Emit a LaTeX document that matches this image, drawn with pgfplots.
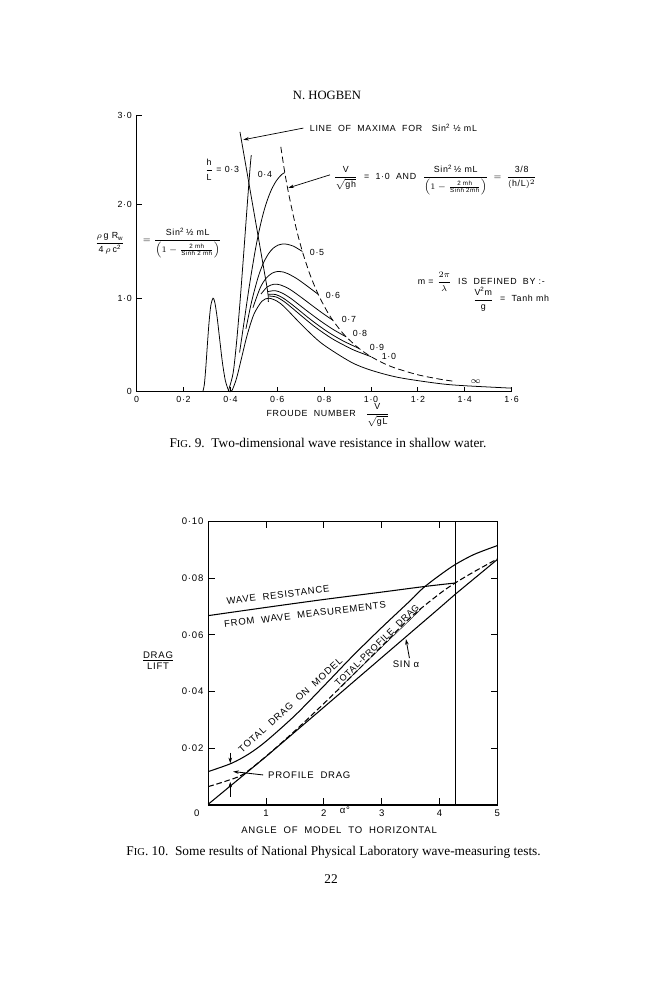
\documentclass[border=0pt]{standalone}
\usepackage{pgfplots}
\pgfplotsset{compat=1.18}
\usepackage{amsmath}
\usepackage{fontspec}
\setmainfont{Liberation Serif}
\setsansfont{Liberation Sans}[LetterSpace=8]
\usetikzlibrary{arrows.meta}
\newcommand\la{\sffamily\fontsize{6.3}{7.5}\selectfont}
\newcommand\lb{\sffamily\fontsize{6.8}{8}\selectfont}
\newcommand\lc{\sffamily\fontsize{6.4}{7.5}\selectfont}
\newcommand\capf{\rmfamily\fontsize{9.5}{11}\selectfont}
\begin{document}
\begin{tikzpicture}
\fill[white] (0,0) rectangle (16.6cm,-25cm);
\path[use as bounding box] (0,0) rectangle (16.6cm,-25cm);
\node[font=\rmfamily\fontsize{9}{11}\selectfont] at (8.175cm,-2.375cm) {N. HOGBEN};
%================ FIG 9 =================
\begin{axis}[at={(3.4175cm,-9.7925cm)}, anchor=south west, scale only axis,
  width=9.3725cm, height=6.9175cm, xmin=0, xmax=1.6, ymin=0, ymax=2.96,
  axis x line=bottom, axis y line=left, axis line style={-, line width=0.6pt},
  xtick={0,0.2,0.4,0.6,0.8,1.0,1.2,1.4,1.6},
  xticklabels={0,0·2,0·4,0·6,0·8,1·0,1·2,1·4,1·6},
  ytick={0,1,2,2.96}, yticklabels={0,1·0,2·0,3·0},
  tick align=inside, major tick length=0.12cm,
  tick style={line width=0.6pt, black}, tick label style={font=\la},
  clip=false, every axis plot/.append style={line width=0.55pt, black}]
% common hump
\addplot[smooth] coordinates {(0.2821,0)(0.2887,0.078)(0.2949,0.258)(0.3015,0.498)(0.3086,0.738)(0.3162,0.920)(0.3257,1.0)(0.3333,0.956)(0.343,0.801)(0.3536,0.573)(0.3651,0.326)(0.378,0.123)(0.3922,0.012)(0.399,0)};
% deep water (infinity)
\addplot[smooth] coordinates {(0.399,0)(0.4082,0.020)(0.4264,0.146)(0.4472,0.358)(0.4714,0.605)(0.5,0.827)(0.5345,0.968)(0.5642,1.0)(0.6,0.967)(0.6325,0.901)(0.7071,0.708)(0.7906,0.515)(0.9129,0.319)(1.0,0.230)(1.118,0.152)(1.291,0.087)(1.4,0.064)(1.6,0.038)};
% h/L = 0.3
\addplot[smooth] coordinates {(0.390,0)(0.411,0.193)(0.4255,0.511)(0.4407,0.953)(0.4565,1.474)(0.4726,2.026)(0.4845,2.415)(0.489,2.53)};
% 0.4
\addplot[smooth] coordinates {(0.4391,0.420)(0.4587,0.754)(0.480,1.119)(0.503,1.471)(0.5202,1.695)(0.537,1.877)(0.5519,2.008)(0.5667,2.112)(0.5762,2.168)(0.5942,2.25)(0.6098,2.30)(0.622,2.33)(0.632,2.344)};
% 0.5
\addplot[smooth] coordinates {(0.4662,0.673)(0.4909,0.969)(0.5186,1.228)(0.5403,1.374)(0.5623,1.475)(0.5825,1.535)(0.6032,1.568)(0.6171,1.578)(0.6308,1.581)(0.6442,1.576)(0.669,1.557)(0.689,1.528)(0.7071,1.5)};
% 0.6
\addplot[smooth] coordinates {(0.4959,0.898)(0.5266,1.108)(0.5513,1.211)(0.5772,1.267)(0.6017,1.286)(0.6277,1.279)(0.6456,1.262)(0.682,1.212)(0.717,1.15)(0.7468,1.094)(0.7746,1.042)};
% 0.7
\addplot[smooth] coordinates {(0.5306,1.045)(0.5573,1.121)(0.5859,1.150)(0.6136,1.142)(0.6439,1.109)(0.6654,1.076)(0.7105,0.994)(0.756,0.908)(0.797,0.833)(0.8367,0.765)};
% 0.8
\addplot[smooth] coordinates {(0.5605,1.071)(0.5909,1.081)(0.621,1.055)(0.6545,1.004)(0.6789,0.958)(0.7317,0.855)(0.7876,0.751)(0.8403,0.663)(0.8944,0.586)};
% 0.9
\addplot[smooth] coordinates {(0.5622,1.041)(0.5937,1.039)(0.6255,1.001)(0.6615,0.935)(0.688,0.882)(0.7474,0.762)(0.813,0.644)(0.8781,0.547)(0.9487,0.463)};
% 1.0
\addplot[smooth] coordinates {(0.5632,1.024)(0.5954,1.013)(0.6282,0.966)(0.666,0.890)(0.6943,0.830)(0.759,0.697)(0.8335,0.568)(0.911,0.464)(0.946,0.426)(1.0,0.375)};
% line of maxima
\addplot[black] coordinates {(0.4407,2.78)(0.556,1.12)(0.561,1.03)(0.562,0.96)};
% V/sqrt(gh)=1 line
\addplot[smooth, dash pattern=on 4.5pt off 2.5pt] coordinates {(0.615,2.62)(0.632,2.344)(0.65,2.10)(0.68,1.755)(0.7071,1.5)(0.74,1.25)(0.7746,1.042)(0.81,0.871)(0.8367,0.765)(0.87,0.655)(0.8944,0.586)(0.9487,0.463)(1.0,0.375)(1.05,0.3085)(1.1,0.256)(1.2,0.181)(1.3,0.1313)(1.36,0.110)};
% labels
\node[anchor=west, font=\la] at (axis cs:0.718,2.823) {LINE \ OF \ MAXIMA \ FOR \ \ Sin\textsuperscript{2} ½ mL};
\draw[-{Stealth[length=4pt,width=2.5pt]}, line width=0.5pt] (axis cs:0.711,2.82) -- (axis cs:0.455,2.695);
\node[anchor=east, font=\la] at (axis cs:0.458,2.374) {$\dfrac{\text{h}}{\text{L}}$ = 0·3};
\node[font=\la] at (axis cs:0.547,2.32) {0·4};
\node[anchor=west, font=\la] at (axis cs:0.718,1.485) {0·5};
\node[anchor=west, font=\la] at (axis cs:0.786,1.035) {0·6};
\node[anchor=west, font=\la] at (axis cs:0.854,0.778) {0·7};
\node[anchor=west, font=\la] at (axis cs:0.9015,0.628) {0·8};
\node[anchor=west, font=\la] at (axis cs:0.974,0.478) {0·9};
\node[anchor=west, font=\la] at (axis cs:1.025,0.372) {1·0};
\node[font=\la] at (axis cs:1.4475,0.104) {$\infty$};
\node[anchor=west, font=\la, inner sep=0pt] at (axis cs:0.84,2.265) {$\dfrac{\text{V}}{\sqrt{\text{gh}}}$ \ = \ 1·0 \ AND \ $\dfrac{\text{Sin}^{\text{2}}\,\text{½ mL}}{\Bigl(1-\frac{\text{2 mh}}{\text{Sinh 2mh}}\Bigr)}\,=\,\dfrac{\text{3/8}}{(\text{h/L})^{2}}$};
\draw[-{Stealth[length=4pt,width=2.5pt]}, line width=0.5pt] (axis cs:0.825,2.32) -- (axis cs:0.647,2.18);
\node[font=\la] at (axis cs:-0.114,1.59) {$\dfrac{\rho\,\text{g R}_{\text{w}}}{\text{4}\,\rho\,\text{c}^{\text{2}}}$};
\node[anchor=west, font=\la] at (axis cs:0.005,1.59) {$=\dfrac{\text{Sin}^{\text{2}}\,\text{½ mL}}{\Bigl(1-\frac{\text{2 mh}}{\text{Sinh 2 mh}}\Bigr)}$};
\node[anchor=west, font=\la] at (axis cs:1.179,1.175) {m = $\dfrac{2\pi}{\lambda}$ \ IS \ DEFINED \ BY :-};
\node[anchor=west, font=\la] at (axis cs:1.4135,0.99) {$\dfrac{\text{V}^{\text{2}}\text{m}}{\text{g}}$ \ = \ Tanh mh};
\node[font=\la] at (axis cs:0.816,-0.25) {FROUDE \ NUMBER \ \ $\dfrac{\text{V}}{\sqrt{\text{gL}}}$};
\end{axis}
\node[font=\capf] at (8.2cm,-11.075cm) {F{\fontsize{7.5}{9}\selectfont IG}. 9.\ \ Two-dimensional wave resistance in shallow water.};
%================ FIG 10 =================
\begin{axis}[at={(5.2075cm,-20.125cm)}, anchor=south west, scale only axis,
  width=7.225cm, height=7.0875cm, xmin=0, xmax=5, ymin=0, ymax=0.1,
  xtick={1,2,3,4,5}, xticklabels={1,2,3,4,5},
  ytick={0.02,0.04,0.06,0.08,0.1},
  yticklabels={0·02,0·04,0·06,0·08,0·10}, scaled y ticks=false,
  tick align=inside, major tick length=0.17cm,
  axis line style={line width=0.8pt}, tick style={line width=0.8pt, black},
  tick label style={font=\lb}, clip=false,
  every axis plot/.append style={line width=0.75pt, black}]
% total drag on model
\addplot[smooth] coordinates {(0,0.0118)(0.4,0.0147)(0.7,0.0180)(1.0,0.0225)(1.5,0.0316)(2.0,0.0420)(2.5,0.0526)(3.0,0.0626)(3.5,0.0722)(3.72,0.0766)(4.0,0.0810)(4.27,0.0848)(4.6,0.0884)(5,0.0915)};
% total - profile drag
\addplot[smooth, dash pattern=on 4pt off 2pt] coordinates {(0,0.0065)(0.3,0.0084)(0.6,0.0108)(1,0.0172)(1.5,0.0262)(2,0.0358)(2.5,0.0458)(3,0.056)(3.5,0.0662)(4,0.0745)(4.27,0.0783)(4.6,0.0823)(5,0.0868)};
% sin alpha
\addplot[black] coordinates {(0,0.0003)(1,0.0171)(2,0.0345)(3,0.052)(4,0.0695)(4.27,0.0743)(5,0.0866)};
% wave resistance from wave measurements
\addplot[smooth] coordinates {(0,0.0668)(1,0.0697)(2,0.0725)(3,0.0751)(3.75,0.0771)(4.27,0.0783)};
% vertical line
\addplot[black] coordinates {(4.27,0)(4.27,0.1)};
\node[font=\lb, rotate=7] at (axis cs:1.206,0.0740) {WAVE \ RESISTANCE};
\node[font=\lb, rotate=7] at (axis cs:1.673,0.0672) {FROM \ WAVE \ MEASUREMENTS};
\node[font=\lb, rotate=42] at (axis cs:1.42,0.0352) {TOTAL \ DRAG \ ON \ MODEL};
\node[font=\lc, rotate=44] at (axis cs:2.93,0.0561) {\underline{TOTAL-PROFILE \ DRAG}};
\node[font=\lb] at (axis cs:3.42,0.0495) {SIN α};
\draw[-{Stealth[length=4pt,width=2.5pt]}, line width=0.6pt] (axis cs:3.48,0.0518) -- (axis cs:3.42,0.0585);
\node[font=\lb, anchor=west] at (axis cs:0.95,0.0106) {PROFILE \ DRAG};
\draw[-{Stealth[length=4pt,width=2.5pt]}, line width=0.6pt] (axis cs:0.95,0.0106) -- (axis cs:0.43,0.0118);
\draw[-{Stealth[length=4pt,width=2.5pt]}, line width=0.6pt] (axis cs:0.38,0.0185) -- (axis cs:0.38,0.0147);
\draw[-{Stealth[length=4pt,width=2.5pt]}, line width=0.6pt] (axis cs:0.38,0.0030) -- (axis cs:0.38,0.0082);
\node[font=\lb] at (axis cs:-0.2,-0.0029) {0};
\node[font=\lb] at (axis cs:2.365,-0.0018) {α°};
\node[font=\lb] at (axis cs:2.262,-0.0088) {ANGLE \ OF \ MODEL \ TO \ HORIZONTAL};
\node[font=\lb, align=center] at (axis cs:-0.87,0.0509) {\underline{DRAG}\\LIFT};
\end{axis}
\node[font=\capf] at (8.34cm,-21.3cm) {F{\fontsize{7.5}{9}\selectfont IG}. 10.\ \ Some results of National Physical Laboratory wave-measuring tests.};
\node[font=\capf] at (8.275cm,-21.975cm) {22};
\end{tikzpicture}
\end{document}
